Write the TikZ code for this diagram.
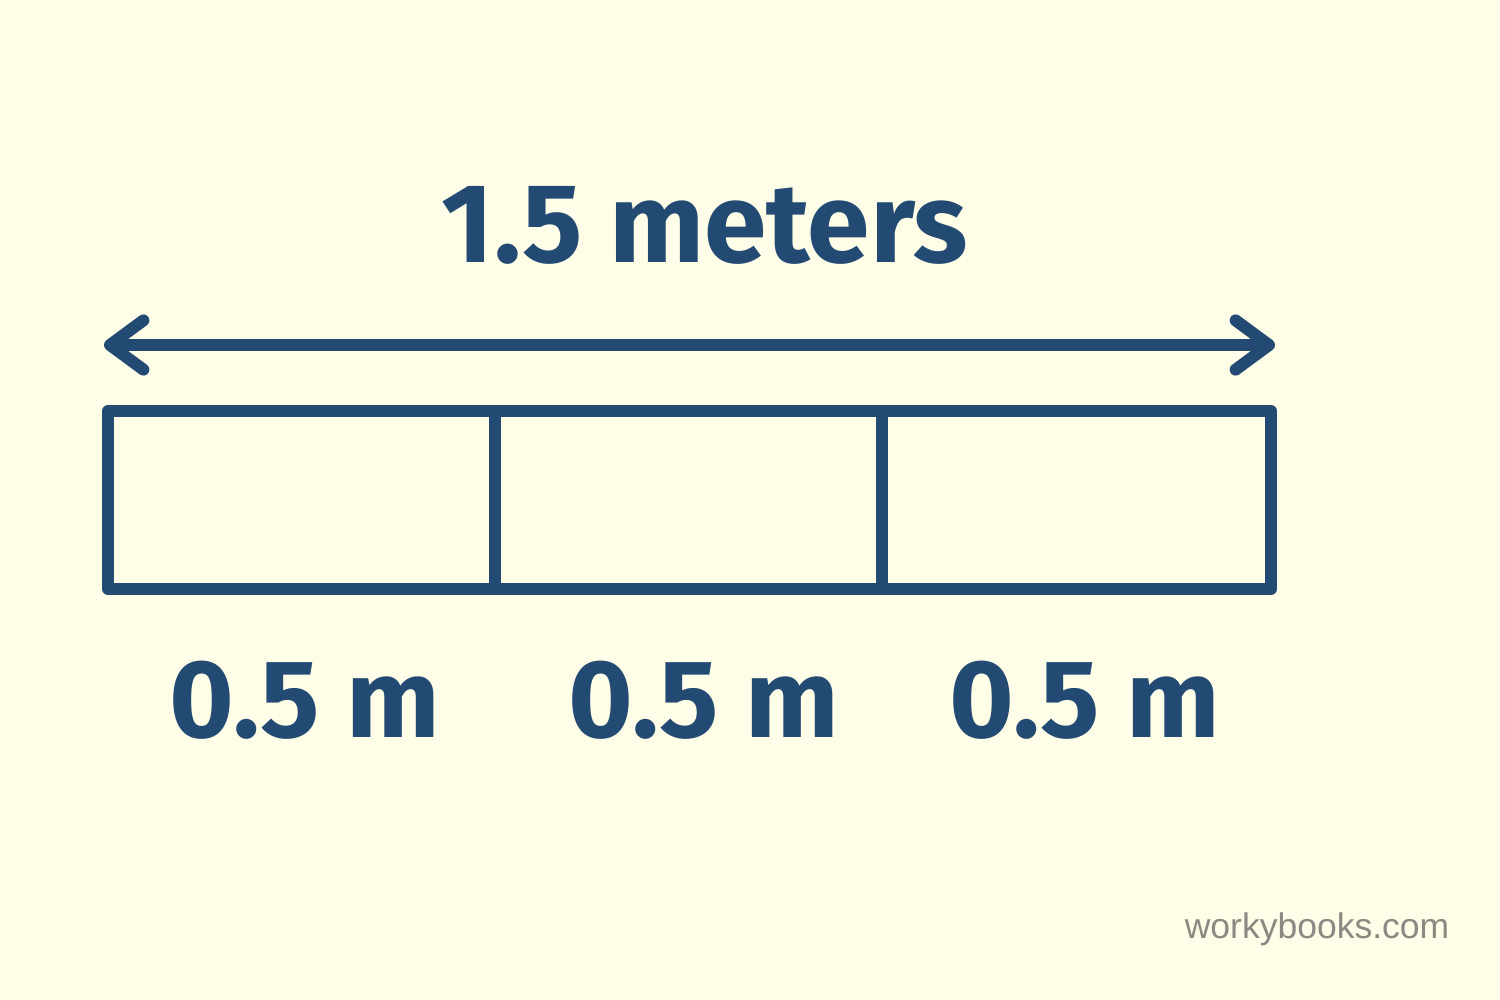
\documentclass[tikz,border=0pt]{standalone}
\usepackage{fontspec}
\setmainfont{Fira Sans}
\newfontfamily\markfont{Liberation Sans}
\usetikzlibrary{arrows.meta}
\definecolor{navy}{HTML}{234A73}
\definecolor{cream}{HTML}{FEFDE8}
\definecolor{stamp}{HTML}{8A8A82}

\begin{document}
\begin{tikzpicture}[x=0.01cm,y=-0.01cm,
    bar/.style={line width=3.4pt,draw=navy,line join=round,line cap=round},
    lbl/.style={text=navy,inner sep=0pt,font=\fontsize{31.5}{36}\selectfont\bfseries}]
  \fill[cream] (0,0) rectangle (1500,1000);
  \useasboundingbox (0,0) rectangle (1500,1000);
  % total length
  \node[lbl,font=\fontsize{32}{36}\selectfont\bfseries] (total) at (705,225) {1.5 meters};
  \coordinate (left) at (104,345);
  \coordinate (right) at (1275,345);
  \draw[bar,{Straight Barb[length=9.5pt,width=14pt,round]}-{Straight Barb[length=9.5pt,width=14pt,round]}] (left) -- (right);
  % bar in three parts
  \coordinate (nw) at (108,411);
  \coordinate (se) at (1271,589);
  \draw[bar] (nw) rectangle (se);
  \draw[bar] (495,411) -- (495,589);
  \draw[bar] (882,411) -- (882,589);
  % parts
  \node[lbl] (partA) at (305,700) {0.5 m};
  \node[lbl] (partB) at (704,700) {0.5 m};
  \node[lbl] (partC) at (1085,700) {0.5 m};
  \node[text=stamp,inner sep=0pt,anchor=base east,font=\markfont\fontsize{10.1}{12}\selectfont] (mark) at (1450,938) {workybooks.com};
\end{tikzpicture}
\end{document}
